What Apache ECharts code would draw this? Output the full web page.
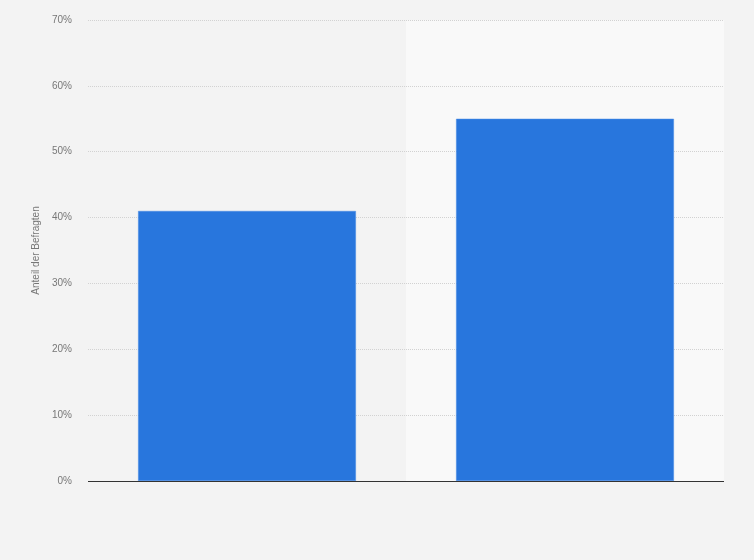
<!DOCTYPE html>
<html>
<head>
<meta charset="UTF-8">
<title>Anteil der Befragten</title>
<script src="https://cdn.jsdelivr.net/npm/echarts@6/dist/echarts.min.js"></script>
<style>
  html, body { margin: 0; padding: 0; background: #f4f4f4; }
  #main { width: 754px; height: 560px; }
</style>
</head>
<body>
<div id="main"></div>
<script>
// Werte
var categories = ['', ''];
var shares = [41, 55];
var yTicks = [0, 10, 20, 30, 40, 50, 60, 70];

var chart = echarts.init(document.getElementById('main'));
var option = {
  backgroundColor: '#f3f3f3',
  textStyle: { fontFamily: 'Liberation Sans, Arial, sans-serif' },
  grid: { left: 88, right: 30, top: 20, bottom: 79 },
  xAxis: {
    type: 'category',
    data: categories,
    z: 0,
    axisLine: { show: false },
    axisTick: { show: false },
    axisLabel: { show: false },
    splitArea: { show: true, areaStyle: { color: ['rgba(0,0,0,0)', '#f9f9f9'] } }
  },
  yAxis: {
    type: 'value',
    z: 1,
    min: yTicks[0],
    max: yTicks[yTicks.length - 1],
    interval: 10,
    name: 'Anteil der Befragten',
    nameLocation: 'middle',
    nameGap: 41,
    nameTextStyle: { color: '#777', fontSize: 10 },
    axisLine: { show: false },
    axisTick: { show: false },
    axisLabel: { color: '#777', fontSize: 10, formatter: '{value}%', margin: 16 },
    splitLine: { lineStyle: { color: '#d2d2d2', type: [1, 1] } }
  },
  series: [{
    type: 'bar',
    data: shares,
    barWidth: '68.5%',
    itemStyle: { color: '#2876dd', borderColor: '#4a8ce6', borderWidth: 0.5 },
    markLine: {
      silent: true,
      symbol: 'none',
      label: { show: false },
      lineStyle: { color: '#333', width: 1, type: 'solid' },
      data: [{ yAxis: yTicks[0] }]
    }
  }]
};
chart.setOption(option);
</script>
</body>
</html>
